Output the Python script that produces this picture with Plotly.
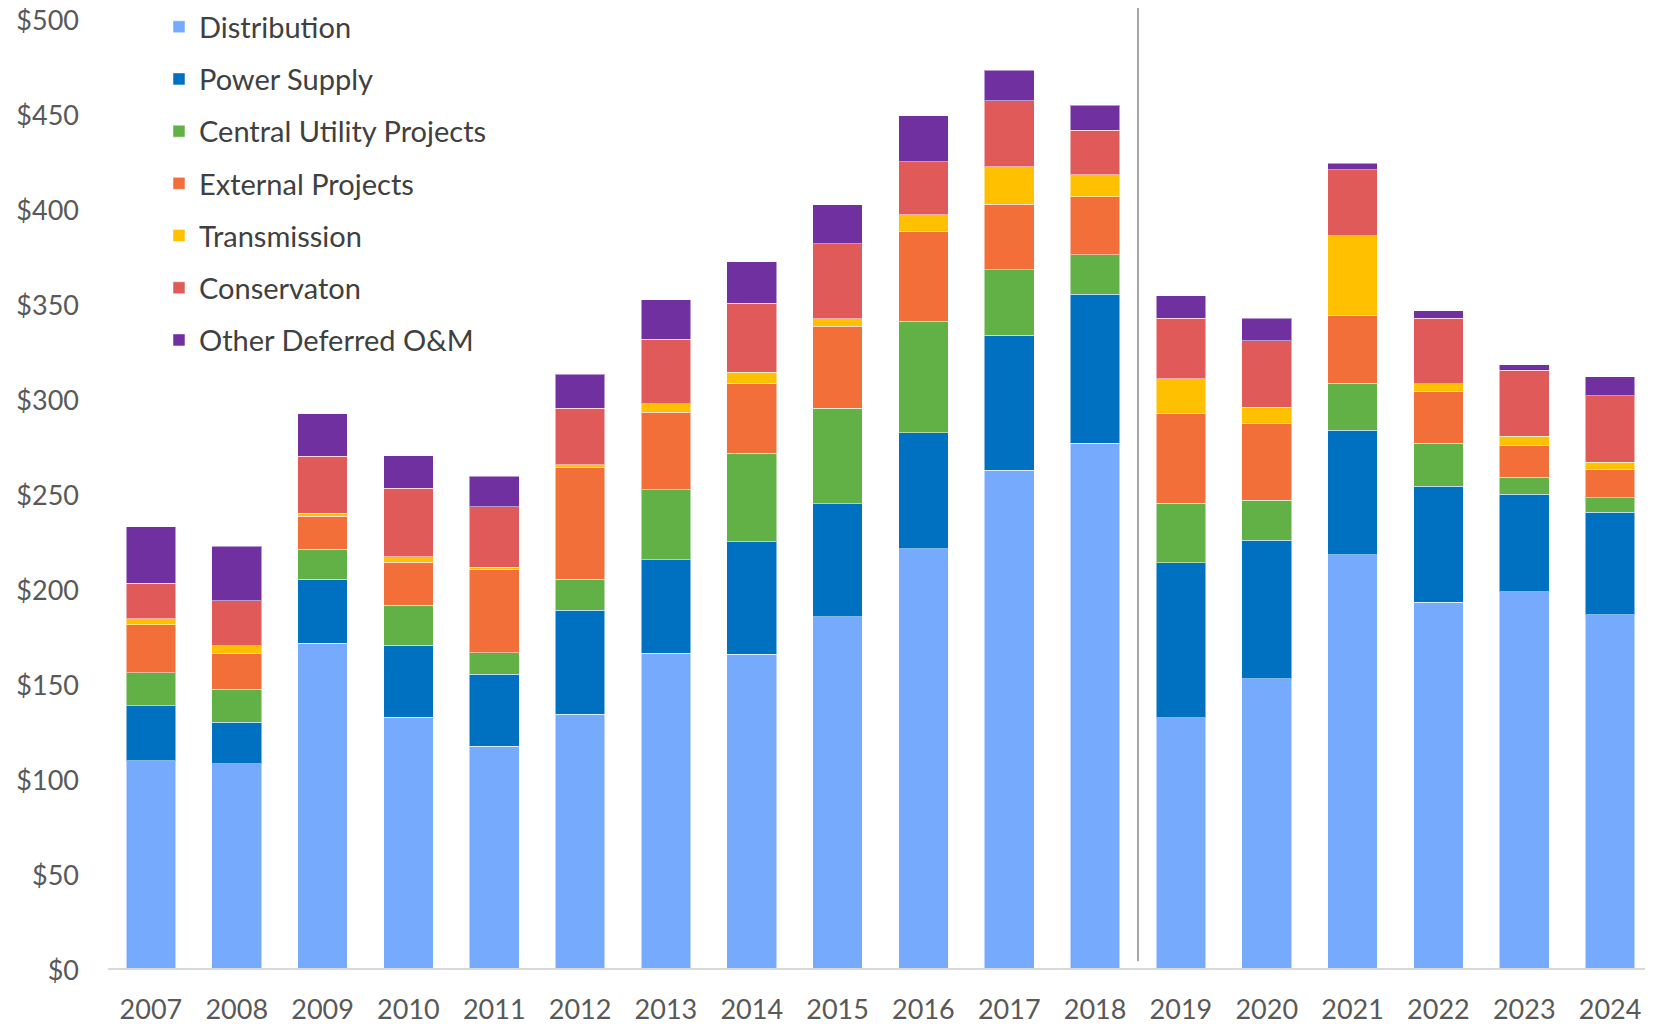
import plotly.graph_objects as go

years = [str(y) for y in range(2007, 2025)]

distribution = [109.1, 107.4, 170.8, 132.1, 116.6, 133.5, 165.6, 165.1, 185.0,
                220.6, 261.9, 276.3, 131.8, 152.3, 217.4, 192.6, 198.1, 185.9]
power_supply = [29.0, 21.9, 33.7, 37.7, 37.9, 54.7, 49.4, 59.3, 59.4,
                61.0, 71.1, 78.2, 81.5, 72.8, 65.6, 60.9, 51.2, 54.1]
central_utility = [17.2, 17.3, 16.0, 21.0, 11.3, 16.5, 36.6, 46.6, 50.1,
                   58.9, 34.4, 20.8, 31.2, 21.2, 24.7, 22.8, 9.1, 7.5]
external_projects = [25.4, 19.0, 17.2, 22.7, 44.2, 58.8, 40.8, 36.7, 43.2,
                     47.2, 34.5, 30.5, 47.4, 40.2, 35.8, 27.2, 16.7, 15.1]
transmission = [3.1, 3.9, 1.6, 3.0, 0.8, 1.4, 4.6, 5.8, 4.0,
                8.8, 19.8, 11.6, 18.3, 8.6, 41.8, 3.9, 4.7, 3.5]
conservation = [18.6, 23.7, 30.0, 36.1, 32.0, 29.8, 34.0, 36.3, 39.5,
                27.9, 34.8, 23.6, 31.9, 35.1, 34.9, 34.5, 34.7, 35.0]
other_om = [29.9, 28.9, 22.4, 17.0, 15.9, 17.8, 20.6, 21.8, 20.4,
            24.2, 15.9, 13.0, 11.7, 11.9, 3.3, 4.0, 2.9, 10.1]

series = [
    ("Distribution", distribution, "#76AAFD"),
    ("Power Supply", power_supply, "#0070C0"),
    ("Central Utility Projects", central_utility, "#62B146"),
    ("External Projects", external_projects, "#F36F3A"),
    ("Transmission", transmission, "#FFC000"),
    ("Conservaton", conservation, "#E05A5A"),
    ("Other Deferred O&M", other_om, "#7030A0"),
]

fig = go.Figure()
for name, vals, color in series:
    fig.add_trace(go.Bar(
        x=years, y=vals, name=name, legendgroup=name,
        marker=dict(color=color, line=dict(width=1, color="rgba(255,255,255,0.5)")),
    ))

# divider between actuals and forecast
fig.add_shape(type="line", xref="x", yref="paper", x0=11.5, x1=11.5,
              y0=0.007, y1=1.03, line=dict(color="#A6A6A6", width=2))

# page body has an 8px default margin, so the figure is sized to fit inside it
font_family = "Lato, Open Sans, sans-serif"
fig.update_layout(
    width=1645, height=1016,
    margin=dict(l=100, r=0, t=10, b=56, autoexpand=False),
    barmode="stack", bargap=0.42,
    plot_bgcolor="white", paper_bgcolor="white",
    font=dict(family=font_family, size=27, color="#595959"),
    showlegend=True,
    legend=dict(x=0.033, y=1.0175, xanchor="left", yanchor="top",
                traceorder="grouped", tracegroupgap=11.5,
                font=dict(size=29, color="#404040"),
                bgcolor="rgba(0,0,0,0)"),
)
fig.update_xaxes(showline=True, linecolor="#D9D9D9", linewidth=2,
                 ticks="", ticklabelstandoff=17, tickfont=dict(size=27),
                 automargin=False, ticklabeloverflow="allow")
fig.update_yaxes(range=[0, 500], dtick=50, tickprefix="$", showgrid=False,
                 zeroline=False, showline=False, ticks="",
                 ticklabelstandoff=28, ticklabelshift=3, tickfont=dict(size=27),
                 automargin=False, ticklabeloverflow="allow")

fig.write_html("out.html")
